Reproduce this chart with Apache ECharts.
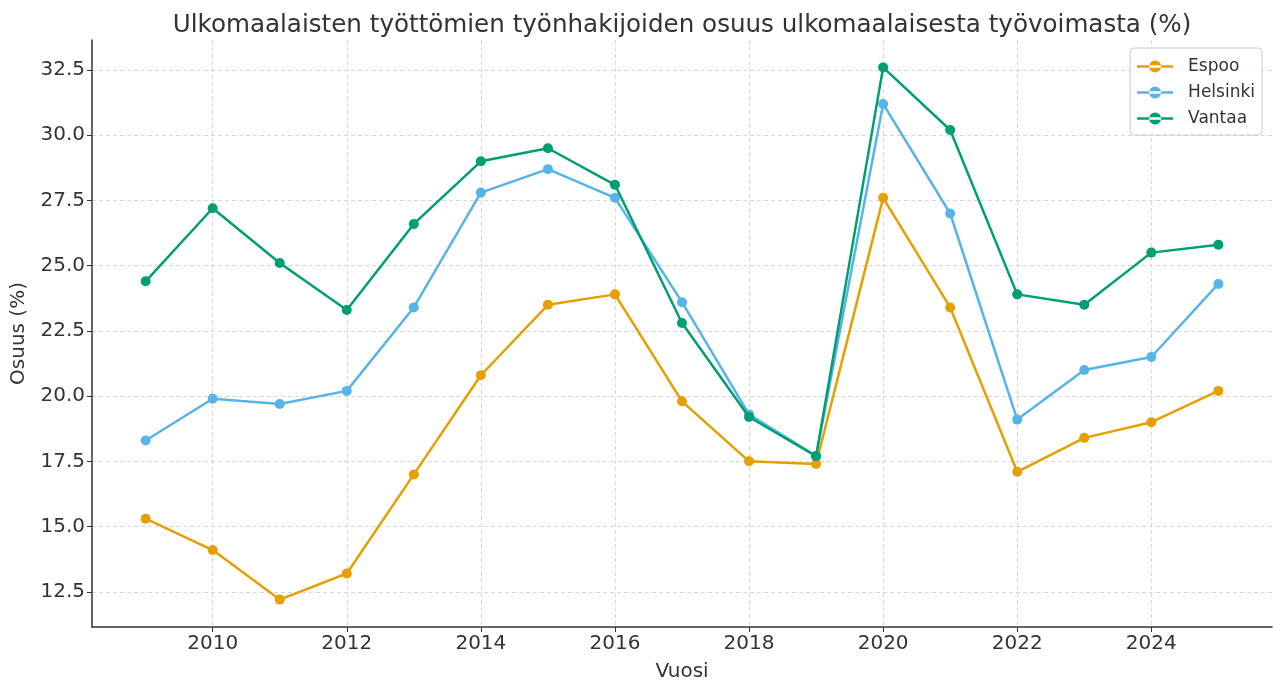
<!DOCTYPE html>
<html><head><meta charset="utf-8">
<script src="https://cdn.jsdelivr.net/npm/echarts@6/dist/echarts.min.js"></script>
<style>html,body{margin:0;padding:0;background:#fff}#c{width:1274px;height:682px}</style>
</head><body><div id="c"></div>
<script>
const years = [2009,2010,2011,2012,2013,2014,2015,2016,2017,2018,2019,2020,2021,2022,2023,2024,2025];
const espoo = [15.3,14.1,12.2,13.2,17.0,20.8,23.5,23.9,19.8,17.5,17.4,27.6,23.4,17.1,18.4,19.0,20.2];
const helsinki = [18.3,19.9,19.7,20.2,23.4,27.8,28.7,27.6,23.6,19.3,17.7,31.2,27.0,19.1,21.0,21.5,24.3];
const vantaa = [24.4,27.2,25.1,23.3,26.6,29.0,29.5,28.1,22.8,19.2,17.7,32.6,30.2,23.9,23.5,25.5,25.8];
const xTicks = [2010,2012,2014,2016,2018,2020,2022,2024];
const yTicks = [12.5,15.0,17.5,20.0,22.5,25.0,27.5,30.0,32.5];
const seriesNames = ['Espoo','Helsinki','Vantaa'];
const colors = ['#E69F00','#56B4E9','#009E73'];
const title = 'Ulkomaalaisten työttömien työnhakijoiden osuus ulkomaalaisesta työvoimasta (%)';

const font = 'DejaVu Sans';
const chart = echarts.init(document.getElementById('c'));
const mk = (name, vals, i) => ({
  name, type: 'line', data: years.map((y, k) => [y, vals[k]]),
  symbol: 'circle', symbolSize: 10,
  lineStyle: {width: 2.5, color: colors[i]},
  itemStyle: {color: colors[i]},
  z: 3 + i
});
chart.setOption({
  animation: false,
  backgroundColor: '#fff',
  title: {text: title, left: 677, top: 8, textAlign: 'center',
    textStyle: {fontFamily: font, fontSize: 24.6, fontWeight: 'normal', color: '#333'}},
  legend: {
    orient: 'vertical', right: 12, top: 48, data: seriesNames,
    itemWidth: 36, itemHeight: 12, itemGap: 9,
    padding: [10, 7, 8, 7],
    borderColor: '#ccc', borderWidth: 1, borderRadius: 4,
    backgroundColor: 'rgba(255,255,255,0.8)',
    textStyle: {fontFamily: font, fontSize: 17, color: '#333', padding: [0, 0, 0, 10]},
    icon: 'path://M0,4.75 L36,4.75 L36,7.25 L0,7.25 Z M12,6 A6,6 0 1,0 24,6 A6,6 0 1,0 12,6 Z'
  },
  grid: {left: 92, right: 2, top: 40, bottom: 55, containLabel: false, outerBoundsMode: 'none'},
  xAxis: {
    type: 'value', min: 2008.2, max: 2025.8,
    name: 'Vuosi', nameLocation: 'middle', nameGap: 35,
    nameTextStyle: {fontFamily: font, fontSize: 20, color: '#333'},
    axisLine: {show: true, lineStyle: {color: '#333', width: 1.5}},
    axisTick: {show: true, customValues: xTicks, length: 5, lineStyle: {color: '#333'}},
    axisLabel: {customValues: xTicks, fontFamily: font, fontSize: 20, color: '#333', margin: 7,
      formatter: v => String(v)},
    splitLine: {show: true, lineStyle: {color: '#d8d8d8', type: [4, 3], width: 1}}
  },
  yAxis: {
    type: 'value', min: 11.15, max: 33.65,
    name: 'Osuus (%)', nameLocation: 'middle', nameGap: 63, nameRotate: 90,
    nameTextStyle: {fontFamily: font, fontSize: 20, color: '#333'},
    axisLine: {show: true, lineStyle: {color: '#333', width: 1.5}},
    axisTick: {show: true, customValues: yTicks, length: 5, lineStyle: {color: '#333'}},
    axisLabel: {customValues: yTicks, fontFamily: font, fontSize: 20, color: '#333', margin: 7,
      formatter: v => v.toFixed(1)},
    splitLine: {show: true, lineStyle: {color: '#d8d8d8', type: [4, 3], width: 1}}
  },
  series: [mk('Espoo', espoo, 0), mk('Helsinki', helsinki, 1), mk('Vantaa', vantaa, 2)]
});
</script></body></html>
